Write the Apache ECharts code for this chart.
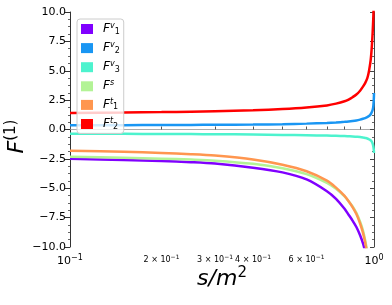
<!DOCTYPE html>
<html>
<head>
<meta charset="utf-8">
<script src="https://cdn.jsdelivr.net/npm/echarts@6/dist/echarts.min.js"></script>
<style>
html,body{margin:0;padding:0;background:#fff;}
#c{width:392px;height:305px;}
</style>
</head>
<body>
<div id="c"></div>
<script>
// s/m^2 sample positions
const sValues = [0.1, 0.15, 0.2, 0.25, 0.3, 0.4, 0.5, 0.6, 0.7, 0.75, 0.8, 0.825, 0.85, 0.875, 0.9, 0.92, 0.935, 0.95, 0.96, 0.97, 0.975, 0.98, 0.985, 0.99, 0.995, 0.999, 1.0];
// series values (null = beyond drawn range)
const F1v = [-2.50, -2.60, -2.68, -2.78, -2.90, -3.25, -3.65, -4.25, -5.25, -5.90, -6.75, -7.25, -7.75, -8.30, -9.00, -9.70, -10.4, -11.4, null, null, null, null, null, null, null, null, null];
const F2v = [0.36, 0.37, 0.38, 0.39, 0.40, 0.42, 0.45, 0.50, 0.56, 0.60, 0.65, 0.68, 0.72, 0.77, 0.84, 0.91, 0.97, 1.05, 1.12, 1.22, 1.30, 1.40, 1.52, 1.68, 2.00, 2.70, 3.10];
const F3v = [-0.36, -0.37, -0.38, -0.39, -0.40, -0.43, -0.46, -0.49, -0.52, -0.54, -0.56, -0.575, -0.59, -0.615, -0.64, -0.68, -0.72, -0.76, -0.81, -0.88, -0.93, -0.98, -1.07, -1.20, -1.45, -1.80, -2.00];
const Fs  = [-2.31, -2.40, -2.48, -2.56, -2.65, -2.92, -3.30, -3.80, -4.55, -5.05, -5.70, -6.10, -6.55, -7.10, -7.85, -8.60, -9.40, -10.4, -11.2, null, null, null, null, null, null, null, null];
const F1t = [-1.80, -1.90, -2.00, -2.10, -2.22, -2.55, -3.00, -3.55, -4.35, -4.95, -5.65, -6.10, -6.60, -7.20, -8.00, -8.80, -9.60, -10.6, -11.5, null, null, null, null, null, null, null, null];
const F2t = [1.40, 1.44, 1.48, 1.52, 1.56, 1.64, 1.74, 1.87, 2.05, 2.20, 2.40, 2.55, 2.75, 2.98, 3.30, 3.65, 3.95, 4.35, 4.80, 5.50, 5.90, 6.50, 7.30, 8.30, 9.60, 11.0, null];
const seriesNames = ['F1v', 'F2v', 'F3v', 'Fs', 'F1t', 'F2t'];
const seriesLabels = {F1v:['1','v'], F2v:['2','v'], F3v:['3','v'], Fs:['','s'], F1t:['1','t'], F2t:['2','t']};
const seriesColors = ['#8000ff', '#1996f3', '#4df3ce', '#b3f396', '#ff964f', '#ff0000'];
const seriesValues = [F1v, F2v, F3v, Fs, F1t, F2t];
const xTickValues = [0.1, 0.2, 0.3, 0.4, 0.5, 0.6, 0.7, 0.8, 0.9, 1.0];
const xLabelValues = [0.1, 0.2, 0.3, 0.4, 0.6, 1.0];
const yMin = -10, yMax = 10, yStep = 2.5;

const FONT = 'DejaVu Sans';
const chart = echarts.init(document.getElementById('c'), null, {renderer: 'canvas'});

function pairs(vals) {
  const out = [];
  for (let i = 0; i < sValues.length; i++) {
    if (vals[i] !== null && vals[i] !== undefined) out.push([sValues[i], vals[i]]);
  }
  return out;
}

const series = seriesNames.map((n, i) => ({
  name: n,
  type: 'line',
  xAxisIndex: 0,
  yAxisIndex: 0,
  data: pairs(seriesValues[i]),
  showSymbol: false,
  symbol: 'none',
  smooth: 0.3,
  clip: true,
  color: seriesColors[i],
  lineStyle: {width: 2.5, color: seriesColors[i]},
  z: 2 + i
}));

const option = {
  backgroundColor: '#fff',
  animation: false,
  grid: {left: 70, right: 18, top: 12, bottom: 58, containLabel: false, outerBoundsMode: 'none'},
  legend: {
    orient: 'vertical',
    left: 77,
    top: 19,
    data: seriesNames,
    icon: 'rect',
    itemWidth: 12,
    itemHeight: 10,
    itemGap: 5.6,
    padding: [3, 4, 3, 4],
    backgroundColor: 'rgba(255,255,255,0.8)',
    borderColor: '#cccccc',
    borderWidth: 1,
    borderRadius: 3,
    z: 20,
    textStyle: {
      fontFamily: FONT,
      padding: [0, 0, 0, 5],
      rich: {
        f: {fontFamily: FONT, fontStyle: 'italic', fontSize: 12, color: '#000', lineHeight: 14},
        sup: {fontFamily: FONT, fontStyle: 'italic', fontSize: 8, color: '#000', padding: [0, 0, 6, 0]},
        sub: {fontFamily: FONT, fontSize: 8, color: '#000', padding: [5, 0, 0, 0]}
      }
    },
    formatter: function (name) {
      const l = seriesLabels[name];
      return '{f|F}{sup|' + l[1] + '}' + (l[0] ? '{sub|' + l[0] + '}' : '');
    }
  },
  xAxis: [{
    type: 'log',
    logBase: 10,
    min: 0.1,
    max: 1,
    position: 'bottom',
    name: '{f|s/m}{s|2}',
    nameLocation: 'middle',
    nameGap: 19,
    nameMoveOverlap: false,
    nameTextStyle: {
      rich: {
        f: {fontFamily: FONT, fontStyle: 'italic', fontSize: 22, color: '#000'},
        s: {fontFamily: FONT, fontSize: 15, color: '#000', padding: [0, 0, 11, 0]}
      }
    },
    axisLine: {show: true, lineStyle: {color: '#333', width: 1}},
    axisTick: {show: true, inside: true, length: 3, customValues: xTickValues, lineStyle: {color: '#555'}},
    minorTick: {show: false},
    splitLine: {show: false},
    axisLabel: {
      show: true,
      margin: 7,
      customValues: xLabelValues,
      formatter: function (v) {
        const k = Math.round(v * 10);
        if (k === 1) return '{b|10}{bs|−1}';
        if (k === 10) return '{b|10}{bs|0}';
        return '{m|' + k + ' × 10}{ms|−1}';
      },
      rich: {
        b: {fontFamily: FONT, fontSize: 11, color: '#000'},
        bs: {fontFamily: FONT, fontSize: 8, color: '#000', padding: [0, 0, 7, 0]},
        m: {fontFamily: FONT, fontSize: 8, color: '#000'},
        ms: {fontFamily: FONT, fontSize: 6, color: '#000', padding: [0, 0, 5, 0]}
      }
    }
  }, {
    type: 'log',
    logBase: 10,
    min: 0.1,
    max: 1,
    position: 'top',
    axisLine: {show: true, lineStyle: {color: '#aaaaaa', width: 1}},
    axisTick: {show: false},
    axisLabel: {show: false},
    splitLine: {show: false}
  }],
  yAxis: [{
    type: 'value',
    min: yMin,
    max: yMax,
    interval: yStep,
    position: 'left',
    name: '{f|F}{s|(1)}',
    nameLocation: 'middle',
    nameRotate: 90,
    nameGap: 40,
    nameMoveOverlap: false,
    nameTextStyle: {
      padding: [0, 14, 0, 0],
      rich: {
        f: {fontFamily: FONT, fontStyle: 'italic', fontSize: 22, color: '#000'},
        s: {fontFamily: FONT, fontSize: 15, color: '#000', padding: [0, 0, 11, 0]}
      }
    },
    axisLine: {show: true, lineStyle: {color: '#333', width: 1}},
    axisTick: {show: true, inside: false, length: 5, lineStyle: {color: '#333'}},
    minorTick: {show: true, splitNumber: 4, length: 2, lineStyle: {color: '#666'}},
    splitLine: {show: false},
    axisLabel: {
      margin: 4,
      fontFamily: FONT,
      fontSize: 11,
      color: '#000',
      formatter: function (v) { return (v < 0 ? '−' : '') + Math.abs(v).toFixed(1); }
    }
  }, {
    type: 'value',
    min: yMin,
    max: yMax,
    interval: yStep,
    position: 'right',
    axisLine: {show: true, lineStyle: {color: '#444', width: 1}},
    axisTick: {show: true, inside: true, length: 4, lineStyle: {color: '#444'}},
    minorTick: {show: true, splitNumber: 4, length: 2, lineStyle: {color: '#666'}},
    splitLine: {show: false},
    axisLabel: {show: false}
  }],
  series: series
};
chart.setOption(option);
</script>
</body>
</html>
